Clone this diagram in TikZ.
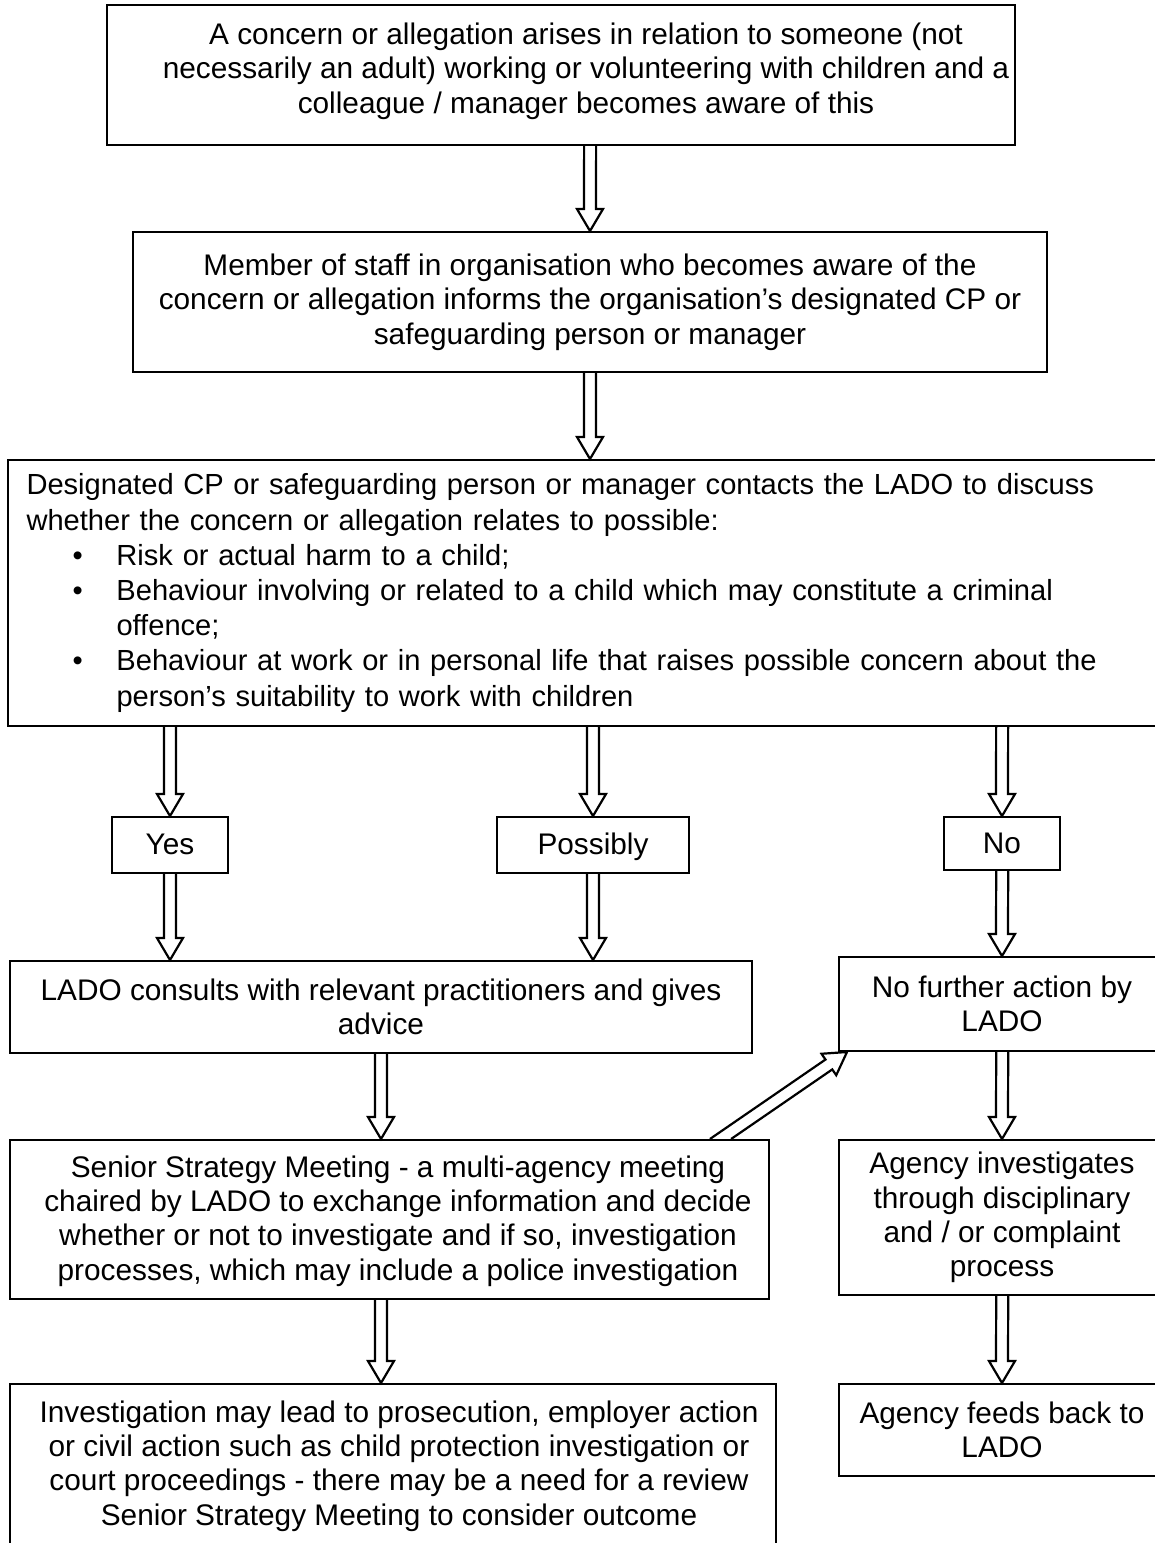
\documentclass[tikz,border=0pt]{standalone}
\usepackage{fontspec}
\setmainfont{Liberation Sans}
\usetikzlibrary{calc}
\newcommand\blockarrow[2]{%
  \coordinate (ba1) at #1;
  \coordinate (ba2) at #2;
  \coordinate (ba1x) at ($(ba1)+(10,0)$);
  \coordinate (bh) at ($(ba2)!11pt!(ba1)$);
  \coordinate (bnl) at ($(bh)!3pt!90:(ba2)$);
  \coordinate (bnr) at ($(bh)!3pt!-90:(ba2)$);
  \coordinate (bl0) at ($(ba1)!3pt!90:(ba2)$);
  \coordinate (br0) at ($(ba1)!3pt!-90:(ba2)$);
  \coordinate (btl) at (intersection of bnl--bl0 and ba1--ba1x);
  \coordinate (btr) at (intersection of bnr--br0 and ba1--ba1x);
  \draw[blk] (btl) -- (bnl) -- ($(bh)!6.5pt!90:(ba2)$) -- (ba2)
    -- ($(bh)!6.5pt!-90:(ba2)$) -- (bnr) -- (btr);
}
\begin{document}
\begin{tikzpicture}[x=0.5pt,y=-0.5pt,
  box/.style={draw, line width=1pt, inner sep=0pt, align=center,
    font=\fontsize{14.9}{17.2}\selectfont},
  txt/.style={inner sep=0pt, align=center, font=\fontsize{14.9}{17.2}\selectfont},
  lbl/.style={box, text height=12.6pt, text depth=2.8pt},
  blk/.style={draw, line width=1.1pt, line join=miter}]
\useasboundingbox (0,0) rectangle (1155,1543);
\clip (0,0) rectangle (1155,1543);

\node[box, minimum width=454pt, minimum height=70pt] (b1) at (561,75) {};
\node[txt] (b1t) at (586,71)
  {A concern or allegation arises in relation to someone (not\\
   necessarily an adult) working or volunteering with children and a\\
   colleague / manager becomes aware of this};
\node[box, minimum width=457pt, minimum height=70pt] (b2) at (590,302)
  {Member of staff in organisation who becomes aware of the\\
   concern or allegation informs the organisation’s designated CP or\\
   safeguarding person or manager};
\node[box, minimum width=578.5pt, minimum height=133pt, align=left, text width=560pt,
  font=\fontsize{14.55}{17.6}\selectfont] (b3) at (586.5,593)
  {Designated CP or safeguarding person or manager contacts the LADO to discuss\\
   whether the concern or allegation relates to possible:\\
   \makebox[45pt][l]{\hspace{23pt}•}Risk or actual harm to a child;\\
   \makebox[45pt][l]{\hspace{23pt}•}Behaviour involving or related to a child which may constitute a criminal\\
   \hspace*{45pt}offence;\\
   \makebox[45pt][l]{\hspace{23pt}•}Behaviour at work or in personal life that raises possible concern about the\\
   \hspace*{45pt}person’s suitability to work with children};

\node[lbl, minimum width=58pt, minimum height=28pt] (yes) at (170,845) {Yes};
\node[lbl, minimum width=96pt, minimum height=28pt] (pos) at (593,845) {Possibly};
\node[lbl, minimum width=58pt, minimum height=26.5pt] (no) at (1002,843.5) {No};

\node[box, minimum width=371pt, minimum height=46pt] (lado) at (381,1007)
  {LADO consults with relevant practitioners and gives\\ advice};
\node[box, minimum width=163pt, minimum height=47pt] (nf) at (1002,1004)
  {No further action by\\ LADO};
\node[box, minimum width=379.5pt, minimum height=79.5pt] (ssm) at (389.5,1219.5) {};
\node[txt] (ssmt) at (398,1221)
  {Senior Strategy Meeting - a multi-agency meeting\\
   chaired by LADO to exchange information and decide\\
   whether or not to investigate and if so, investigation\\
   processes, which may include a police investigation};
\node[box, minimum width=163pt, minimum height=77.5pt] (ai) at (1002,1217.5)
  {Agency investigates\\ through disciplinary\\ and / or complaint\\ process};
\node[box, minimum width=383pt, minimum height=85.5pt] (inv) at (393,1469.5) {};
\node[txt] (invt) at (399,1466)
  {Investigation may lead to prosecution, employer action\\
   or civil action such as child protection investigation or\\
   court proceedings - there may be a need for a review\\
   Senior Strategy Meeting to consider outcome};
\node[box, minimum width=163pt, minimum height=46pt] (fb) at (1002,1430)
  {Agency feeds back to\\ LADO};

\blockarrow{(b1.south -| b2.north)}{(b2.north)}
\blockarrow{(b2.south)}{(b2.south |- b3.north)}
\blockarrow{(b3.south -| yes.north)}{(yes.north)}
\blockarrow{(b3.south -| pos.north)}{(pos.north)}
\blockarrow{(b3.south -| no.north)}{(no.north)}
\blockarrow{(yes.south)}{(yes.south |- lado.north)}
\blockarrow{(pos.south)}{(pos.south |- lado.north)}
\blockarrow{(no.south)}{(no.south |- nf.north)}
\blockarrow{(lado.south)}{(lado.south |- ssm.north)}
\blockarrow{($(ssm.north east)!0.065!(ssm.north west)$)}{($(nf.south west)+(9,0)$)}
\blockarrow{(nf.south)}{(nf.south |- ai.north)}
\blockarrow{(ssm.south -| lado.south)}{(inv.north -| lado.south)}
\blockarrow{(ai.south)}{(ai.south |- fb.north)}
\end{tikzpicture}
\end{document}
